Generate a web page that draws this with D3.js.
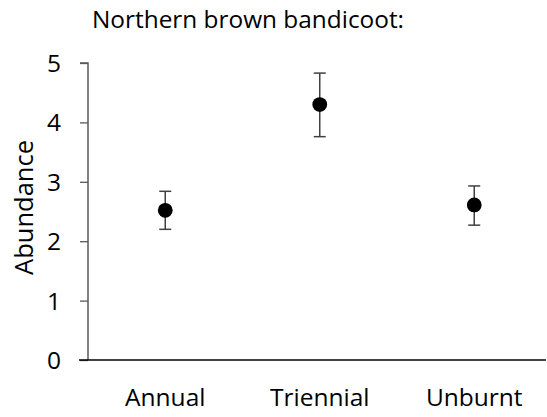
<!DOCTYPE html>
<html><head><meta charset="utf-8">
<script src="https://cdn.jsdelivr.net/npm/d3@7"></script>
<style>body{margin:0;background:#fff}svg{display:block}text{font-family:"Open Sans",sans-serif;fill:#000}</style>
</head><body><svg id="c" width="547" height="417"></svg>
<script>
const categories = ["Annual", "Triennial", "Unburnt"];
const means = [2.52, 4.30, 2.61];
const upper = [2.84, 4.83, 2.93];
const lower = [2.20, 3.76, 2.27];
const yTicks = [0, 1, 2, 3, 4, 5];
const title = "Northern brown bandicoot:";
const yLabel = "Abundance";

const svg = d3.select("#c");
const x = d3.scalePoint().domain(categories).range([88, 551.5]).padding(0.5);
const y = d3.scaleLinear().domain([0, 5]).range([360, 63]);

// y axis
const ya = svg.append("g").attr("transform", "translate(88,0)")
  .call(d3.axisLeft(y).tickValues(yTicks).tickSize(8).tickPadding(19).tickFormat(d3.format("d")));
ya.select(".domain").attr("stroke", "#595959").attr("stroke-width", 1.5).attr("d", `M-8,${y(5)}H0V${y(0)}`);
ya.selectAll(".tick line").attr("stroke", "#595959").attr("stroke-width", 1.3);
ya.selectAll(".tick text").attr("font-size", "24.5px").attr("font-family", "Open Sans").attr("fill", "#000").attr("dy", "0.35em");

// x axis line
svg.append("line").attr("x1", 79).attr("x2", 546).attr("y1", y(0)).attr("y2", y(0))
  .attr("stroke", "#000").attr("stroke-width", 1.6);
// x labels
svg.append("g").selectAll("text").data(categories).join("text")
  .attr("x", d => x(d)).attr("y", 406).attr("text-anchor", "middle")
  .attr("font-size", "24.5px").text(d => d);

// error bars
const g = svg.append("g");
categories.forEach((c, i) => {
  const cx = x(c);
  g.append("line").attr("x1", cx).attr("x2", cx).attr("y1", y(upper[i])).attr("y2", y(lower[i]))
    .attr("stroke", "#404040").attr("stroke-width", 1.5);
  [upper[i], lower[i]].forEach(v => {
    g.append("line").attr("x1", cx - 6).attr("x2", cx + 6).attr("y1", y(v)).attr("y2", y(v))
      .attr("stroke", "#404040").attr("stroke-width", 1.5);
  });
  g.append("circle").attr("cx", cx).attr("cy", y(means[i])).attr("r", 7.4).attr("fill", "#000");
});

// title
svg.append("text").attr("x", 92).attr("y", 28).attr("font-size", "24.4px").text(title);
// y label
svg.append("text").attr("transform", "translate(33,207.5) rotate(-90)").attr("text-anchor", "middle")
  .attr("font-size", "25.5px").text(yLabel);
</script></body></html>
